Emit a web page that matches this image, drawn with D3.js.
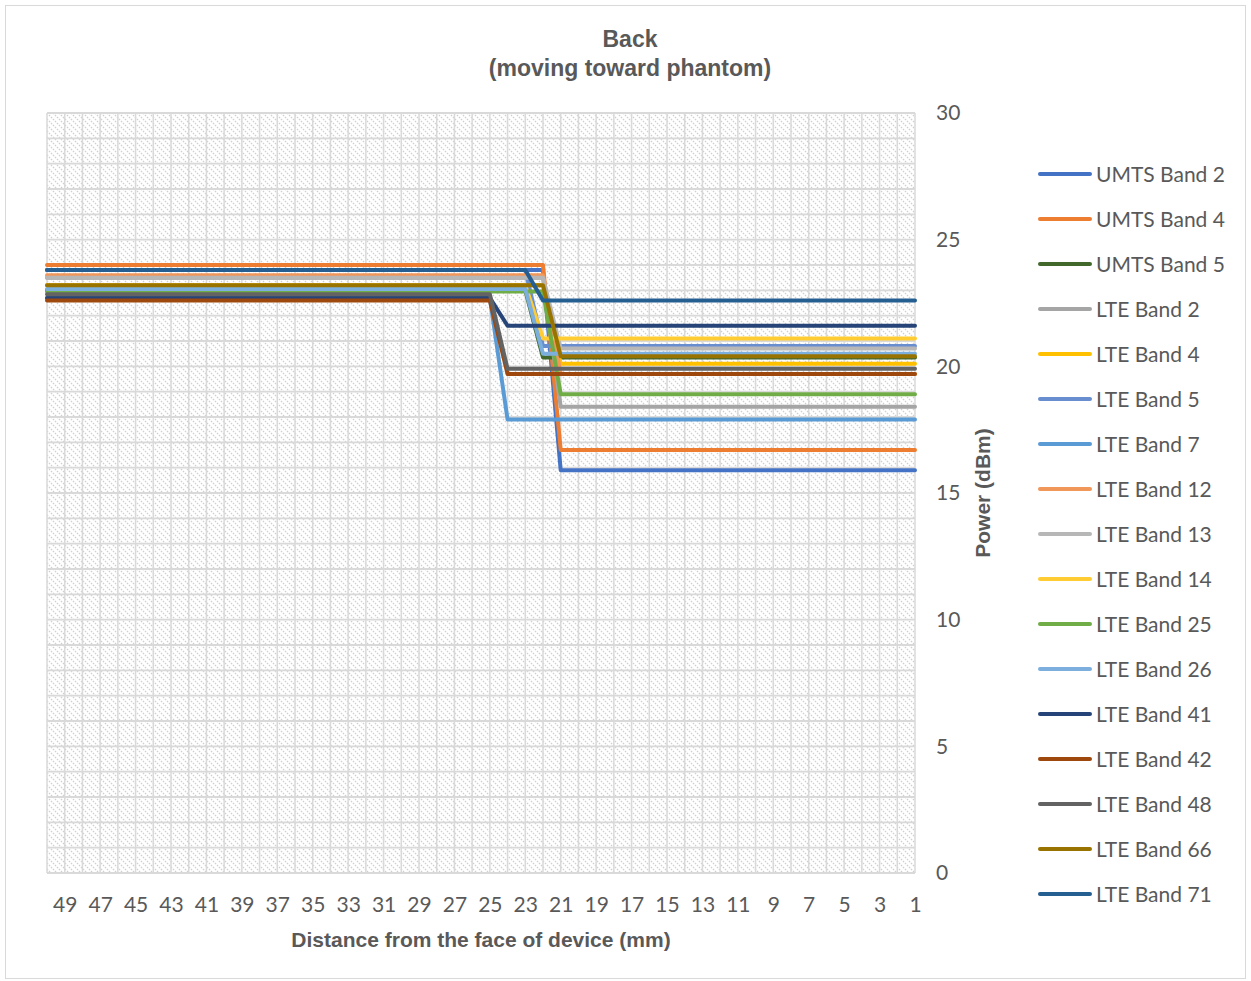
<!DOCTYPE html>
<html>
<head>
<meta charset="utf-8">
<script src="https://cdn.jsdelivr.net/npm/d3@7"></script>
<style>
  html, body { margin: 0; padding: 0; background: #fff; }
  svg { display: block; }
</style>
</head>
<body>
<svg id="chart" width="1251" height="981"></svg>
<script>
// ---- data ----
const distances = d3.range(50, 0, -1);          // 50 .. 1 (mm)
const xTickLabels = d3.range(49, 0, -2);         // 49, 47, ... 1
const yTicks = [0, 5, 10, 15, 20, 25, 30];
const seriesNames = ["UMTS Band 2","UMTS Band 4","UMTS Band 5","LTE Band 2","LTE Band 4","LTE Band 5","LTE Band 7","LTE Band 12","LTE Band 13","LTE Band 14","LTE Band 25","LTE Band 26","LTE Band 41","LTE Band 42","LTE Band 48","LTE Band 66","LTE Band 71"];
const seriesColors = ["#4472C4","#ED7D31","#43682B","#A5A5A5","#FFC000","#698ED0","#5B9BD5","#F1975A","#B7B7B7","#FFCD33","#70AD47","#7CAFDD","#264478","#9E480E","#636363","#997300","#255E91"];
// power at far distances (dBm)
const highPower = [23.8, 24.0, 23.0, 23.5, 23.2, 23.8, 22.7, 23.6, 23.5, 23.2, 22.95, 23.05, 22.7, 22.6, 22.85, 23.2, 23.8];
// last distance (mm) at which the far power is still used
const lastHighDistance = [22, 22, 23, 22, 22, 23, 25, 22, 22, 23, 22, 23, 25, 25, 25, 22, 23];
// power at close distances (dBm)
const lowPower = [15.9, 16.7, 20.35, 18.4, 20.1, 20.8, 17.9, 19.7, 20.7, 21.1, 18.9, 20.5, 21.6, 19.7, 19.9, 20.4, 22.6];

const series = seriesNames.map((name, i) => ({
  name, color: seriesColors[i],
  values: distances.map(d => ({ d, v: d >= lastHighDistance[i] ? highPower[i] : lowPower[i] }))
}));

// ---- layout ----
const svg = d3.select("#chart");
const W = 1251, H = 981;
const plot = { left: 47, right: 915, top: 113, bottom: 873 };
const font = "Lato, 'Open Sans', sans-serif";
const boldFont = "'Liberation Sans', Arial, sans-serif";
const txt = "#595959";

svg.append("rect").attr("x", 5.5).attr("y", 5.5).attr("width", W - 11).attr("height", H - 8)
  .attr("fill", "#fff").attr("stroke", "#d9d9d9").attr("stroke-width", 1);

const x = d3.scalePoint().domain(distances).range([plot.left, plot.right]);
const y = d3.scaleLinear().domain([0, 30]).range([plot.bottom, plot.top]);

// hatch pattern
const defs = svg.append("defs");
const pat = defs.append("pattern").attr("id", "hatch").attr("patternUnits", "userSpaceOnUse")
  .attr("width", 6).attr("height", 6);
pat.append("rect").attr("width", 6).attr("height", 6).attr("fill", "#fff");
pat.append("path").attr("d", "M-1,-1 L7,7 M-1,5 L1,7 M5,-1 L7,1")
  .attr("stroke", "#cfcfcf").attr("stroke-width", 1.2).attr("stroke-dasharray", "1.6,1.2");

svg.append("rect").attr("x", plot.left).attr("y", plot.top)
  .attr("width", plot.right - plot.left).attr("height", plot.bottom - plot.top)
  .attr("fill", "url(#hatch)");

// grid
const grid = svg.append("g");
grid.selectAll("line.v").data(distances).join("line")
  .attr("x1", d => x(d)).attr("x2", d => x(d))
  .attr("y1", plot.top).attr("y2", plot.bottom)
  .attr("stroke", "#d9d9d9").attr("stroke-width", 1.5);
grid.selectAll("line.h").data(d3.range(0, 31, 1)).join("line")
  .attr("x1", plot.left).attr("x2", plot.right)
  .attr("y1", d => y(d)).attr("y2", d => y(d))
  .attr("stroke", "#d9d9d9").attr("stroke-width", 1.8);

// axes
const xAxis = d3.axisBottom(x).tickValues(xTickLabels).tickSize(0).tickPadding(24);
const gx = svg.append("g").attr("transform", `translate(0,${plot.bottom})`).call(xAxis);
gx.select(".domain").remove();
gx.selectAll("text").attr("fill", txt).style("font-family", font).style("font-size", "21px");

const yAxis = d3.axisRight(y).tickValues(yTicks).tickSize(0).tickPadding(21);
const gy = svg.append("g").attr("transform", `translate(${plot.right},0)`).call(yAxis);
gy.select(".domain").remove();
gy.selectAll("text").attr("fill", txt).style("font-family", font).style("font-size", "21px");

// lines
const line = d3.line().x(p => x(p.d)).y(p => y(p.v));
svg.append("g").selectAll("path").data(series).join("path")
  .attr("d", s => line(s.values)).attr("fill", "none")
  .attr("stroke", s => s.color).attr("stroke-width", 4)
  .attr("stroke-linejoin", "round").attr("stroke-linecap", "round");

// titles
const title = svg.append("text").attr("x", 630).attr("text-anchor", "middle")
  .attr("fill", txt).style("font-family", boldFont)
  .style("font-weight", "bold").style("font-size", "23px");
title.append("tspan").attr("x", 630).attr("y", 47).text("Back");
title.append("tspan").attr("x", 630).attr("y", 76).text("(moving toward phantom)");

svg.append("text").attr("x", 481).attr("y", 947).attr("text-anchor", "middle")
  .attr("fill", txt).style("font-family", boldFont)
  .style("font-weight", "bold").style("font-size", "21px")
  .text("Distance from the face of device (mm)");

svg.append("text").attr("transform", "translate(990,493) rotate(-90)").attr("text-anchor", "middle")
  .attr("fill", txt).style("font-family", boldFont)
  .style("font-weight", "bold").style("font-size", "21px")
  .text("Power (dBm)");

// legend
const lg = svg.append("g").selectAll("g").data(series).join("g")
  .attr("transform", (s, i) => `translate(1040,${174 + i * 45})`);
lg.append("line").attr("x1", 0).attr("x2", 50).attr("y1", 0).attr("y2", 0)
  .attr("stroke", s => s.color).attr("stroke-width", 4).attr("stroke-linecap", "round");
lg.append("text").attr("x", 56).attr("y", 8).attr("fill", txt)
  .style("font-family", font).style("font-size", "21px").text(s => s.name);
</script>
</body>
</html>
